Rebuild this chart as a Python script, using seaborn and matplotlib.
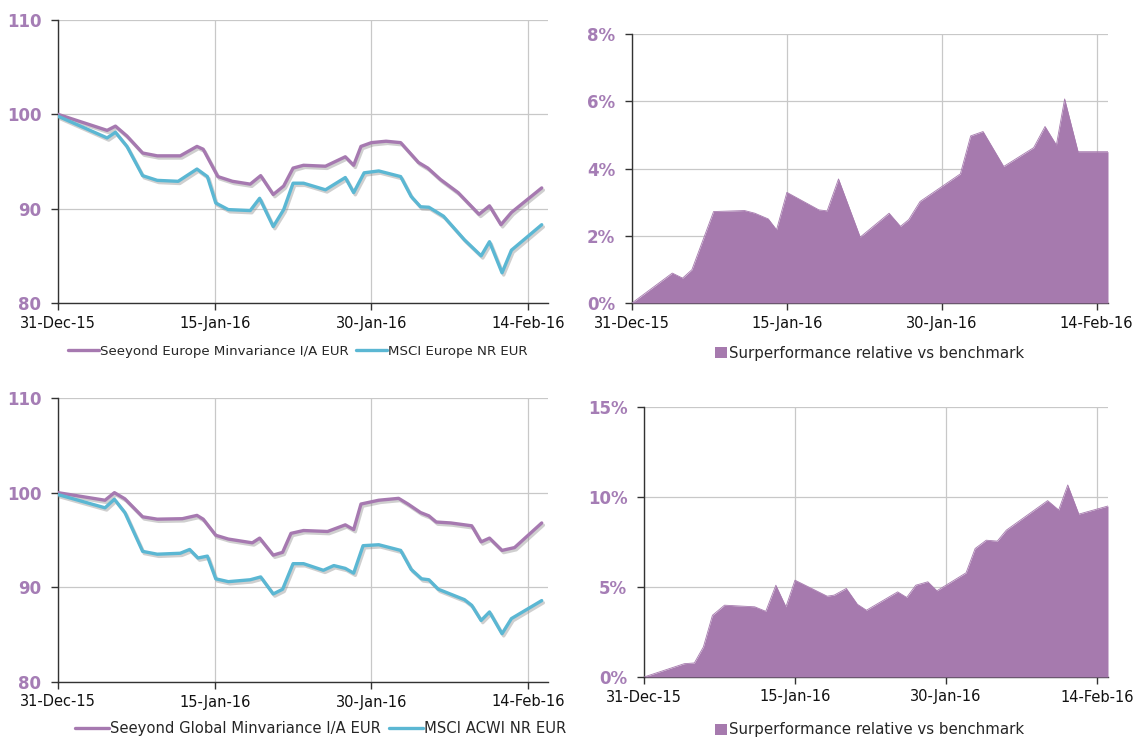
import matplotlib
matplotlib.use("Agg")
import matplotlib.pyplot as plt
import matplotlib.patheffects as pe
from matplotlib.patches import Patch
from matplotlib.lines import Line2D
import seaborn as sns
import pandas as pd

# ---------------- data ----------------
# x = days since 31-Dec-15
tick_days = [0, 15, 30, 45]
tick_labels = ["31-Dec-15", "15-Jan-16", "30-Jan-16", "14-Feb-16"]

eu_fund_days = [0, 4.7, 5.5, 6.6, 8.1, 9.5, 11.7, 13.3, 13.9, 15.3, 16.7, 18.4, 19.4, 20.6,
                21.6, 22.5, 23.5, 25.6, 27.5, 28.3, 29.0, 30.0, 31.4, 32.8, 34.5, 35.4,
                36.6, 38.3, 40.3, 41.3, 42.4, 43.4, 46.3]
eu_fund_vals = [100.0, 98.3, 98.75, 97.7, 95.9, 95.6, 95.6, 96.6, 96.3, 93.4, 92.9, 92.6, 93.5,
                91.5, 92.4, 94.3, 94.6, 94.5, 95.5, 94.6, 96.6, 97.0, 97.15, 97.0, 94.9, 94.3,
                93.1, 91.7, 89.4, 90.3, 88.3, 89.6, 92.2]

eu_bench_days = [0, 4.7, 5.5, 6.6, 8.1, 9.5, 11.5, 13.3, 14.3, 15.1, 16.3, 18.4, 19.3, 20.6,
                 21.6, 22.5, 23.5, 25.6, 27.5, 28.3, 29.3, 30.7, 32.8, 33.8, 34.7, 35.5,
                 36.9, 38.9, 40.5, 41.3, 42.5, 43.4, 44.8, 46.3]
eu_bench_vals = [99.8, 97.5, 98.1, 96.6, 93.5, 93.0, 92.9, 94.2, 93.4, 90.6, 89.9, 89.8, 91.1,
                 88.1, 89.9, 92.7, 92.7, 92.0, 93.3, 91.7, 93.8, 94.0, 93.4, 91.3, 90.2, 90.15,
                 89.2, 86.7, 85.0, 86.5, 83.2, 85.6, 86.9, 88.3]

eu_excess_days = [0, 3.9, 4.9, 5.8, 7.9, 10.9, 11.9, 13.2, 14.0, 15.0, 18.1, 18.9, 20.0, 22.1,
                  24.9, 26.0, 26.8, 27.9, 31.8, 32.8, 34.0, 36.0, 38.9, 40.0, 41.1, 41.9,
                  43.2, 46.1]
eu_excess_vals = [0.0, 0.89, 0.74, 0.99, 2.72, 2.75, 2.67, 2.5, 2.18, 3.29, 2.77, 2.74, 3.69,
                  1.96, 2.67, 2.28, 2.48, 3.02, 3.84, 4.97, 5.1, 4.06, 4.62, 5.25, 4.7, 6.07,
                  4.5, 4.5]

gl_fund_days = [0, 4.5, 5.4, 6.4, 8.1, 9.5, 11.9, 13.3, 13.9, 15.1, 16.3, 18.6, 19.3, 20.6,
                21.5, 22.3, 23.5, 25.8, 27.5, 28.3, 29.0, 30.7, 32.6, 33.5, 34.7, 35.5, 36.2,
                37.6, 39.6, 40.5, 41.3, 42.5, 43.7, 46.3]
gl_fund_vals = [100.0, 99.2, 100.0, 99.35, 97.45, 97.2, 97.25, 97.6, 97.2, 95.5, 95.1, 94.7,
                95.2, 93.4, 93.7, 95.7, 96.0, 95.9, 96.6, 96.1, 98.8, 99.2, 99.4, 98.8, 97.9,
                97.55, 96.9, 96.8, 96.5, 94.8, 95.2, 93.9, 94.2, 96.8]

gl_bench_days = [0, 4.5, 5.4, 6.4, 8.1, 9.5, 11.7, 12.6, 13.4, 14.3, 15.1, 16.3, 18.4, 19.4,
                 20.6, 21.5, 22.5, 23.5, 25.4, 26.4, 27.5, 28.3, 29.2, 30.7, 32.8, 33.8, 34.8,
                 35.5, 36.4, 38.9, 39.6, 40.5, 41.3, 42.5, 43.4, 46.3]
gl_bench_vals = [99.8, 98.4, 99.3, 97.9, 93.8, 93.5, 93.6, 94.0, 93.1, 93.3, 90.9, 90.6, 90.8,
                 91.1, 89.3, 89.8, 92.5, 92.5, 91.8, 92.3, 92.0, 91.5, 94.4, 94.5, 93.9, 91.9,
                 90.9, 90.8, 89.8, 88.7, 88.1, 86.5, 87.4, 85.1, 86.7, 88.6]

gl_excess_days = [0, 4.0, 5.0, 5.9, 6.8, 8.0, 11.0, 12.1, 13.1, 14.1, 15.0, 18.2, 18.9, 20.1,
                  21.2, 22.1, 25.2, 26.1, 27.0, 28.2, 29.1, 32.0, 32.9, 34.0, 35.1, 36.0,
                  40.1, 41.2, 42.1, 43.2, 46.1]
gl_excess_vals = [0.0, 0.74, 0.78, 1.67, 3.43, 3.99, 3.9, 3.65, 5.1, 3.9, 5.38, 4.49, 4.55,
                  4.92, 4.04, 3.71, 4.73, 4.42, 5.1, 5.29, 4.79, 5.79, 7.14, 7.6, 7.55, 8.16,
                  9.8, 9.28, 10.67, 9.05, 9.5]

eu_fund_name = "Seeyond Europe Minvariance I/A EUR"
eu_bench_name = "MSCI Europe NR EUR"
gl_fund_name = "Seeyond Global Minvariance I/A EUR"
gl_bench_name = "MSCI ACWI NR EUR"
excess_name = "Surperformance relative vs benchmark"

# ---------------- style ----------------
sns.set_theme(style="white")
plt.rcParams["font.family"] = ["DejaVu Sans"]

PURPLE = "#A679B0"
CYAN = "#5BB7D3"
FILL = "#A67AAE"
LABEL = "#A57DB5"
GRID = "#C8C8C8"

fig = plt.figure(figsize=(11.37, 7.38), dpi=100)

def px_axes(l, r, t, b):
    W, H = 1137, 738
    return fig.add_axes([l / W, 1 - b / H, (r - l) / W, (b - t) / H])

ax_tl = px_axes(58, 548, 20, 303)
ax_tr = px_axes(632, 1108, 34, 303)
ax_bl = px_axes(58, 548, 398, 682)
ax_br = px_axes(644, 1108, 407, 677)

shadow = [pe.SimpleLineShadow(offset=(1.2, -1.6), shadow_color="#888888", alpha=0.4),
          pe.Normal()]

def style_axes(ax, yticks, ylabels, ylim, xmax):
    ax.set_xlim(0, xmax)
    ax.set_ylim(*ylim)
    ax.set_xticks(tick_days)
    ax.set_xticklabels(tick_labels, fontsize=10.5, color="#111111")
    ax.set_yticks(yticks)
    ax.set_yticklabels(ylabels, fontsize=12, fontweight="bold", color=LABEL)
    ax.grid(True, color=GRID, linewidth=0.9)
    ax.set_axisbelow(True)
    for s in ["top", "right"]:
        ax.spines[s].set_visible(False)
    for s in ["left", "bottom"]:
        ax.spines[s].set_color("#333333")
        ax.spines[s].set_linewidth(1.0)
    ax.tick_params(axis="both", which="major", length=5, width=1.0, color="#333333",
                   direction="out", bottom=True, left=True)
    ax.tick_params(axis="x", pad=4)
    ax.tick_params(axis="y", pad=7)
    ax.set_xlabel("")
    ax.set_ylabel("")

def line_panel(ax, fd, fv, bd, bv, fname, bname, legend_xy, lfs):
    sns.lineplot(x=fd, y=fv, ax=ax, color=PURPLE, linewidth=2.4,
                 path_effects=shadow, zorder=3)
    sns.lineplot(x=bd, y=bv, ax=ax, color=CYAN, linewidth=2.4,
                 path_effects=shadow, zorder=4)
    style_axes(ax, [80, 90, 100, 110], ["80", "90", "100", "110"], (80, 110), 46.9)
    handles = [Line2D([], [], color=PURPLE, linewidth=2.4),
               Line2D([], [], color=CYAN, linewidth=2.4)]
    fig.legend(handles, [fname, bname], loc="center", bbox_to_anchor=legend_xy,
               ncol=2, frameon=False, fontsize=lfs, handlelength=2.3,
               handletextpad=0.05, columnspacing=0.6)

def area_panel(ax, d, v, yticks, ylabels, ylim, legend_xy):
    ax.fill_between(d, 0, v, color=FILL, linewidth=0, zorder=3)
    sns.lineplot(x=d, y=v, ax=ax, color=FILL, linewidth=0.6, zorder=3)
    style_axes(ax, yticks, ylabels, ylim, 46.1)
    fig.legend([Patch(facecolor=FILL, edgecolor="none")], [excess_name], loc="center",
               bbox_to_anchor=legend_xy, frameon=False, fontsize=10.8,
               handlelength=0.75, handleheight=0.75, handletextpad=0.15)

line_panel(ax_tl, eu_fund_days, eu_fund_vals, eu_bench_days, eu_bench_vals,
           eu_fund_name, eu_bench_name, (0.262, 0.524), 9.6)
area_panel(ax_tr, eu_excess_days, eu_excess_vals, [0, 2, 4, 6, 8],
           ["0%", "2%", "4%", "6%", "8%"], (0, 8), (0.765, 0.521))
line_panel(ax_bl, gl_fund_days, gl_fund_vals, gl_bench_days, gl_bench_vals,
           gl_fund_name, gl_bench_name, (0.282, 0.013), 10.6)
area_panel(ax_br, gl_excess_days, gl_excess_vals, [0, 5, 10, 15],
           ["0%", "5%", "10%", "15%"], (0, 15), (0.765, 0.011))

fig.savefig("out.png", dpi=100)
